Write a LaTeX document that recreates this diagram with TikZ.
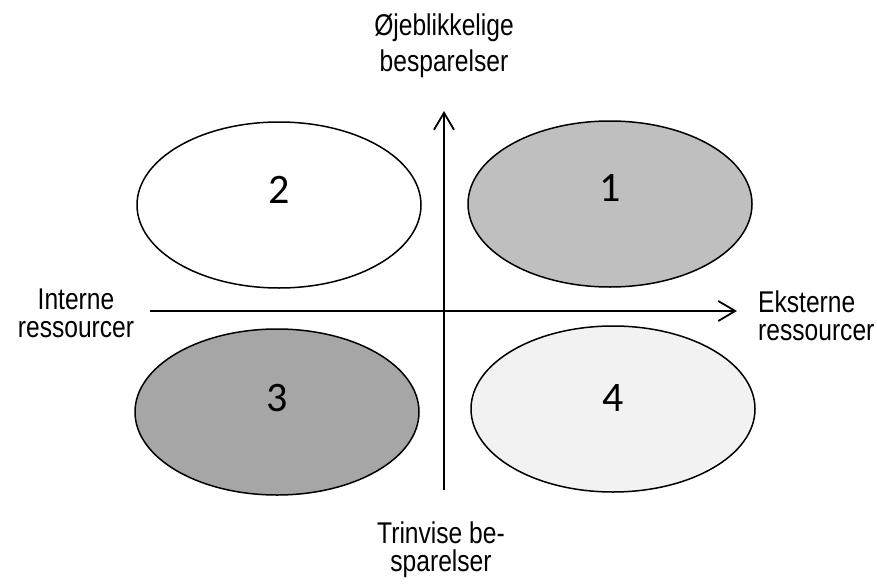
\documentclass[tikz,border=0pt]{standalone}
\usepackage{fontspec}
\newfontfamily\narrowfont[FakeStretch=0.82]{Liberation Sans}
\newfontfamily\numfont{Carlito}
\usetikzlibrary{shapes.geometric,arrows.meta}
\definecolor{grayA}{HTML}{BFBFBF}
\definecolor{grayB}{HTML}{A6A6A6}
\definecolor{grayC}{HTML}{F2F2F2}
\begin{document}
\begin{tikzpicture}[x=1pt,y=-1pt,
  quad/.style={ellipse, draw=black, line width=1.5pt, minimum width=284pt, minimum height=166pt, inner sep=0pt},
  num/.style={font=\numfont\fontsize{42}{42}\selectfont, inner sep=0pt},
  sidelabel/.style={font=\narrowfont\fontsize{30}{28}\selectfont, inner sep=0pt},
  toplabel/.style={font=\narrowfont\fontsize{30}{36}\selectfont, inner sep=0pt, align=center},
  axis/.style={line width=1.8pt, -{Straight Barb[length=17pt,width=20pt]}}]
\useasboundingbox (0,0) rectangle (877,583);
\fill[white] (0,0) rectangle (877,583);
\node[quad, fill=white] (e2) at (279,205) {};
\node[quad, fill=grayA] (e1) at (610,204) {};
\node[quad, fill=grayB] (e3) at (277,412) {};
\node[quad, fill=grayC] (e4) at (613,409) {};
\node[num] (n1) at ([yshift=16pt]e1.center) {1};
\node[num] (n2) at ([yshift=15pt]e2.center) {2};
\node[num] (n3) at ([yshift=14pt]e3.center) {3};
\node[num] (n4) at ([yshift=11pt]e4.center) {4};
\coordinate (vbot) at (444,490);
\coordinate (vtop) at (444,111);
\coordinate (hl) at (150,311);
\coordinate (hr) at (737,311);
\draw[axis] (vbot) -- (vtop);
\draw[axis] (hl) -- (hr);
\node[toplabel] (top) at (444,46) {Øjeblikkelige\\besparelser};
\node[sidelabel, align=center] (left) at (76,313) {Interne\\ressourcer};
\node[sidelabel, align=left, anchor=west] (right) at (758,315.5) {Eksterne\\ressourcer};
\node[sidelabel, align=center] (bottom) at (441,549.5) {Trinvise be-\\sparelser};
\end{tikzpicture}
\end{document}
